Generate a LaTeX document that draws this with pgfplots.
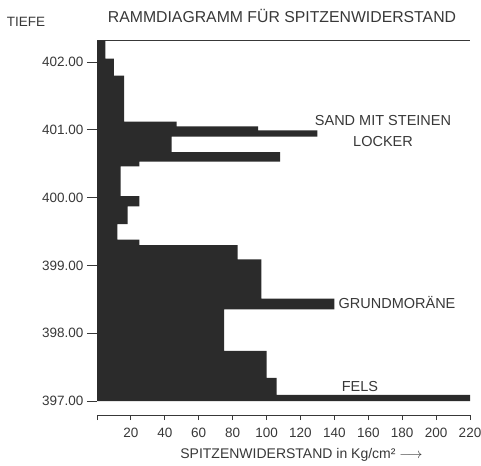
\documentclass[border=0pt]{standalone}
\usepackage{fontspec}
\setmainfont{Liberation Sans}
\usepackage{pgfplots}
\pgfplotsset{compat=1.18}
\definecolor{ink}{gray}{0.17}
\definecolor{txt}{gray}{0.22}
\begin{document}
\begin{tikzpicture}
\path[use as bounding box] (0pt,0pt) rectangle (481pt,-465pt);
% main diagram
\begin{axis}[
  at={(97pt,-401pt)}, anchor=south west,
  scale only axis, width=373pt, height=360.7pt,
  xmin=0, xmax=220, ymin=397, ymax=402.32,
  axis x line*=top, axis y line*=left,
  y axis line style={draw=none},
  x axis line style={txt, line width=1pt},
  xtick=\empty,
  ytick={397,398,399,400,401,402},
  yticklabels={397.00,398.00,399.00,400.00,401.00,402.00},
  tick align=outside, major tick length=10pt,
  ytick style={txt, line width=0.9pt},
  yticklabel style={font=\fontsize{13.5}{13.5}\selectfont, text=txt},
  clip=false,
]
\addplot[fill=ink, draw=none] coordinates {
(0,402.32) (5,402.32) (5,402.05) (10,402.05) (10,401.80) (16,401.80)
(16,401.12) (47,401.12) (47,401.05) (95,401.05) (95,400.99) (130,400.99)
(130,400.90) (44,400.90) (44,400.67) (108,400.67) (108,400.53) (25,400.53)
(25,400.46) (14,400.46) (14,400.02) (25,400.02) (25,399.87) (18,399.87)
(18,399.61) (12,399.61) (12,399.38) (25,399.38) (25,399.30) (83,399.30)
(83,399.09) (97,399.09) (97,398.51) (140,398.51) (140,398.35) (75,398.35)
(75,397.74) (100,397.74) (100,397.34) (106,397.34) (106,397.09) (220,397.09)
(220,397.00) (0,397.00)
};
\end{axis}
% scale axis
\begin{axis}[
  at={(97pt,-415pt)}, anchor=south west,
  scale only axis, width=373pt, height=8pt,
  xmin=0, xmax=220, ymin=0, ymax=1,
  axis x line*=bottom, axis y line=none,
  x axis line style={txt, line width=0.9pt},
  xtick={0,20,...,220},
  xticklabels={,20,40,60,80,100,120,140,160,180,200,220},
  tick align=outside, major tick length=5pt,
  xtick style={txt, line width=0.9pt},
  xticklabel style={font=\fontsize{13.5}{13.5}\selectfont, text=txt, yshift=-5pt},
  xlabel={SPITZENWIDERSTAND in Kg/cm² $\longrightarrow$},
  xlabel style={font=\fontsize{14}{14}\selectfont, text=txt, xshift=18pt, yshift=-3pt},
]
\end{axis}
\node[text=txt, font=\fontsize{15.8}{15.8}\selectfont] at (282pt,-16pt) {RAMMDIAGRAMM FÜR SPITZENWIDERSTAND};
\node[text=txt, font=\fontsize{13.5}{13.5}\selectfont] at (26pt,-22pt) {TIEFE};
\node[text=txt, font=\fontsize{14.5}{14.5}\selectfont] at (383pt,-121pt) {SAND MIT STEINEN};
\node[text=txt, font=\fontsize{14.5}{14.5}\selectfont] at (383pt,-142pt) {LOCKER};
\node[text=txt, font=\fontsize{14.5}{14.5}\selectfont] at (397pt,-303pt) {GRUNDMORÄNE};
\node[text=txt, font=\fontsize{14.5}{14.5}\selectfont] at (360pt,-387pt) {FELS};
\end{tikzpicture}
\end{document}
